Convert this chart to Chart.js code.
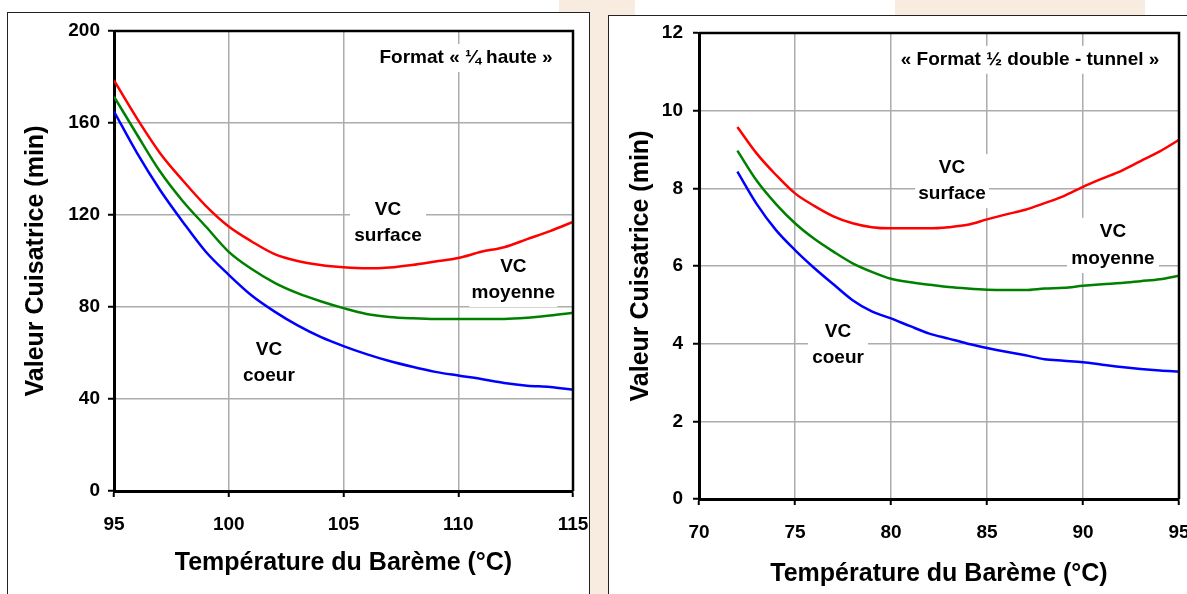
<!DOCTYPE html>
<html>
<head>
<meta charset="utf-8">
<script src="https://cdn.jsdelivr.net/npm/chart.js@4/dist/chart.umd.min.js"></script>
<style>
  html, body { margin: 0; padding: 0; width: 1187px; height: 594px; overflow: hidden; background: #fff; }
  .beige { position: absolute; background: #f8ece0; }
  .box { position: absolute; background: #fff; border: 1.5px solid #222; box-sizing: border-box; }
  canvas { position: absolute; }
</style>
</head>
<body>
<div class="beige" style="left:559px; top:0; width:76px; height:594px;"></div>
<div class="beige" style="left:895px; top:0; width:250px; height:20px;"></div>
<div class="box" style="left:7px; top:12px; width:583px; height:600px;"></div>
<div class="box" style="left:608px; top:15px; width:600px; height:600px;"></div>
<canvas id="left" width="601" height="585" style="left:8px; top:9px;"></canvas>
<canvas id="right" width="600" height="583" style="left:609px; top:11px;"></canvas>
<script>
// format 1/4 haute
const tempsA = [95, 96, 97, 98, 99, 100, 101, 102, 103, 104, 105, 106, 107, 108, 109, 110, 111, 112, 113, 114, 115];
const surfaceA = [178.5, 162, 147, 135, 124, 115, 108.5, 103, 100, 98.3, 97.3, 96.8, 97.2, 98.3, 99.8, 101.3, 104, 106, 109.5, 113, 117];
const moyenneA = [171.5, 155, 139, 126, 115, 104, 96.5, 90.5, 86, 82.5, 79.5, 77, 75.7, 75.1, 74.8, 74.8, 74.8, 74.8, 75.3, 76.3, 77.5];
const coeurA = [165, 147, 131, 117, 104, 94, 85, 78, 72, 67, 63, 59.5, 56.5, 54, 51.8, 50.2, 48.7, 47, 45.8, 45.2, 44];

// format 1/2 double - tunnel
const tempsB = [72, 73, 74, 75, 76, 77, 78, 79, 80, 81, 82, 83, 84, 85, 86, 87, 88, 89, 90, 91, 92, 93, 94, 95];
const surfaceB = [9.58, 8.9, 8.35, 7.87, 7.55, 7.28, 7.1, 7.0, 6.97, 6.97, 6.97, 7.0, 7.06, 7.2, 7.33, 7.45, 7.62, 7.8, 8.04, 8.25, 8.45, 8.7, 8.95, 9.25];
const moyenneB = [8.97, 8.2, 7.6, 7.1, 6.7, 6.37, 6.07, 5.85, 5.67, 5.58, 5.52, 5.46, 5.42, 5.39, 5.38, 5.38, 5.42, 5.44, 5.49, 5.53, 5.56, 5.61, 5.66, 5.75];
const coeurB = [8.43, 7.6, 6.93, 6.41, 5.95, 5.53, 5.12, 4.83, 4.65, 4.45, 4.26, 4.13, 4.0, 3.89, 3.79, 3.7, 3.6, 3.56, 3.52, 3.46, 3.4, 3.35, 3.31, 3.28];

// labels placed in data units: [x, y, text, boxWidth]
const notesA = [
  [110.34, 188.3, 'Format « ¼ haute »', 190],
  [106.94, 122.2, 'VC', 76], [106.94, 110.9, 'surface', 76],
  [112.4, 97.4, 'VC', 88], [112.4, 86.1, 'moyenne', 88],
  [101.75, 61.3, 'VC', 60], [101.75, 50, 'coeur', 60]
];
const notesB = [
  [87.24, 11.31, '« Format ½ double - tunnel »', 270],
  [83.18, 8.52, 'VC', 74], [83.18, 7.85, 'surface', 74],
  [91.56, 6.88, 'VC', 92], [91.56, 6.18, 'moyenne', 92],
  [77.24, 4.30, 'VC', 60], [77.24, 3.63, 'coeur', 60]
];

const FONT = "'Liberation Sans', Arial, sans-serif";
const xTitle = 'Température du Barème (°C)';
const yTitle = 'Valeur Cuisatrice (min)';

const toPoints = (xs, ys) => xs.map((x, i) => ({ x: x, y: ys[i] }));

const line = (data, color) => ({
  data: data,
  borderColor: color,
  borderWidth: 2.5,
  pointRadius: 0,
  cubicInterpolationMode: 'monotone',
  fill: false
});

// white label boxes + the black frame on top/right of the plot
const notesPlugin = (notes) => ({
  id: 'notes',
  beforeDatasetsDraw: (chart) => {
    const ctx = chart.ctx;
    const xs = chart.scales.x;
    const ys = chart.scales.y;
    ctx.save();
    ctx.font = 'bold 19px ' + FONT;
    ctx.textAlign = 'center';
    ctx.textBaseline = 'middle';
    for (const n of notes) {
      const px = xs.getPixelForValue(n[0]);
      const py = ys.getPixelForValue(n[1]);
      ctx.fillStyle = '#fff';
      ctx.fillRect(px - n[3] / 2, py - 14, n[3], 28);
    }
    ctx.fillStyle = '#000';
    for (const n of notes) {
      ctx.fillText(n[2], xs.getPixelForValue(n[0]), ys.getPixelForValue(n[1]));
    }
    ctx.restore();
  },
  afterDatasetsDraw: (chart) => {
    const a = chart.chartArea;
    const ctx = chart.ctx;
    ctx.save();
    ctx.strokeStyle = '#000';
    ctx.lineWidth = 2.5;
    ctx.beginPath();
    ctx.moveTo(a.left, a.top);
    ctx.lineTo(a.right, a.top);
    ctx.lineTo(a.right, a.bottom);
    ctx.stroke();
    ctx.restore();
  }
});

const makeChart = (id, xs, series, opts) => {
  const ctx = document.getElementById(id).getContext('2d');
  return new Chart(ctx, {
    type: 'line',
    data: {
      datasets: [
        line(toPoints(xs, series[0]), '#ff0000'),
        line(toPoints(xs, series[1]), '#008000'),
        line(toPoints(xs, series[2]), '#0000ff')
      ]
    },
    options: {
      responsive: false,
      animation: false,
      layout: { padding: opts.padding },
      plugins: { legend: { display: false }, tooltip: { enabled: false } },
      scales: {
        x: {
          type: 'linear',
          min: opts.xMin, max: opts.xMax,
          afterFit: (s) => { s.height = opts.xHeight; },
          ticks: { stepSize: 5, color: '#000', padding: 16, maxRotation: 0,
            font: { family: FONT, size: 19, weight: 'bold' } },
          grid: { color: '#acacac', lineWidth: 1.5, tickColor: '#000', tickLength: 6, tickWidth: 2 },
          border: { color: '#000', width: 3 },
          title: { display: true, text: xTitle, color: '#000',
            font: { family: FONT, size: 25, weight: 'bold' },
            padding: { top: 0, bottom: opts.xTitlePad } }
        },
        y: {
          min: 0, max: opts.yMax,
          afterFit: (s) => { s.width = opts.yWidth; },
          ticks: { stepSize: opts.yStep, color: '#000', padding: opts.yTickPad,
            font: { family: FONT, size: 19, weight: 'bold' } },
          grid: { color: '#acacac', lineWidth: 1.5, tickColor: '#000', tickLength: 6, tickWidth: 2 },
          border: { color: '#000', width: 3 },
          title: { display: true, text: yTitle, color: '#000',
            font: { family: FONT, size: 25, weight: 'bold' },
            padding: { top: opts.yTitlePad, bottom: 0 } }
        }
      }
    },
    plugins: [notesPlugin(opts.notes)]
  });
};

makeChart('left', tempsA, [surfaceA, moyenneA, coeurA], {
  padding: { top: 22, right: 36, bottom: 0, left: 0 },
  xMin: 95, xMax: 115, yMax: 200, yStep: 40,
  xHeight: 103, yWidth: 106,
  xTitlePad: 16, yTitlePad: 13, yTickPad: 8,
  notes: notesA
});

makeChart('right', tempsB, [surfaceB, moyenneB, coeurB], {
  padding: { top: 22, right: 30, bottom: 0, left: 0 },
  xMin: 70, xMax: 95, yMax: 12, yStep: 2,
  xHeight: 95, yWidth: 90,
  xTitlePad: 5, yTitlePad: 17, yTickPad: 10,
  notes: notesB
});
</script>
</body>
</html>
